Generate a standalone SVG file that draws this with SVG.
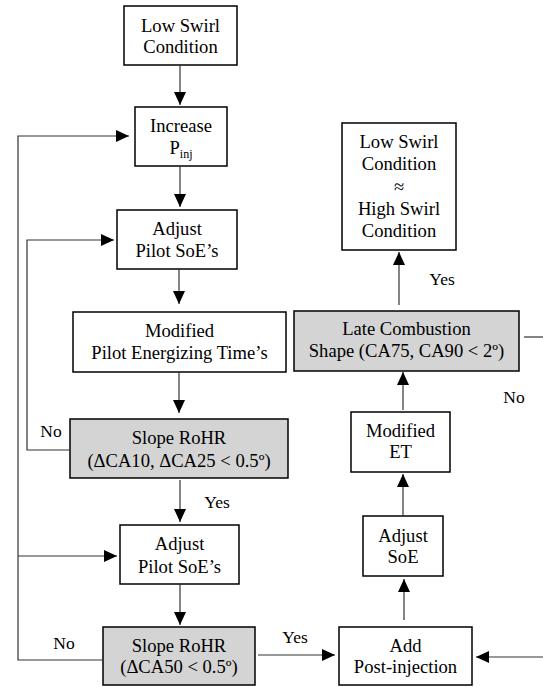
<svg xmlns="http://www.w3.org/2000/svg" width="543" height="687" viewBox="0 0 543 687">
<style>
.box{fill:#ffffff;stroke:#000;stroke-width:1.5}
.dec{fill:#d4d4d4;stroke:#000;stroke-width:1.5}
text{font-family:"Liberation Serif","Times New Roman",serif;font-size:18.6px;fill:#000;text-anchor:middle}
.ln{fill:none;stroke:#333;stroke-width:1.2}
.lbl{font-size:17.5px}
</style>
<defs>
<marker id="ah" markerUnits="userSpaceOnUse" markerWidth="14" markerHeight="14" viewBox="0 0 14 14" refX="13" refY="7" orient="auto">
<path d="M0,1 L13,7 L0,13 Z" fill="#000"/>
</marker>
</defs>
<rect width="543" height="687" fill="#fff"/>
<g id="n1"><rect class="box" x="124" y="6" width="113" height="59"/><text x="180.5" y="32">Low Swirl</text><text x="180.5" y="53">Condition</text></g>
<g id="n2"><rect class="box" x="135" y="107" width="92" height="59"/><text x="181" y="132">Increase</text><text x="181" y="154">P<tspan font-size="12" dy="4">inj</tspan></text></g>
<g id="n3"><rect class="box" x="117" y="210" width="120" height="59"/><text x="177" y="235">Adjust</text><text x="177" y="257">Pilot SoE’s</text></g>
<g id="n4"><rect class="box" x="73" y="312" width="213" height="60"/><text x="179.5" y="337">Modified</text><text x="179.5" y="359">Pilot Energizing Time’s</text></g>
<g id="n5"><rect class="dec" x="70" y="419" width="218" height="59"/><text x="179" y="444">Slope RoHR</text><text x="179" y="467">(ΔCA10, ΔCA25 &lt; 0.5º)</text></g>
<g id="n6"><rect class="box" x="120" y="525" width="119" height="59"/><text x="179.5" y="550">Adjust</text><text x="179.5" y="573">Pilot SoE’s</text></g>
<g id="n7"><rect class="dec" x="103" y="627" width="152" height="58"/><text x="179" y="652">Slope RoHR</text><text x="179" y="673">(ΔCA50 &lt; 0.5º)</text></g>
<g id="n8"><rect class="box" x="339" y="627" width="133" height="58"/><text x="405.5" y="652">Add</text><text x="405.5" y="673">Post-injection</text></g>
<g id="n9"><rect class="box" x="363" y="516" width="80" height="60"/><text x="403" y="542">Adjust</text><text x="403" y="563">SoE</text></g>
<g id="n10"><rect class="box" x="351" y="412" width="99" height="60"/><text x="400.5" y="437">Modified</text><text x="400.5" y="458">ET</text></g>
<g id="n11"><rect class="dec" x="294" y="311" width="225" height="60"/><text x="406.5" y="335">Late Combustion</text><text x="406.5" y="357">Shape (CA75, CA90 &lt; 2º)</text></g>
<g id="n12"><rect class="box" x="342" y="123" width="114" height="127"/><text x="399" y="148">Low Swirl</text><text x="399" y="170">Condition</text><text x="399" y="193">≈</text><text x="399" y="215">High Swirl</text><text x="399" y="237">Condition</text></g>
<g id="connectors">
<line class="ln" x1="180" y1="65" x2="180" y2="105" marker-end="url(#ah)"/>
<line class="ln" x1="180" y1="166" x2="180" y2="207" marker-end="url(#ah)"/>
<line class="ln" x1="179" y1="269" x2="179" y2="304" marker-end="url(#ah)"/>
<line class="ln" x1="179" y1="372" x2="179" y2="413" marker-end="url(#ah)"/>
<line class="ln" x1="180" y1="480" x2="180" y2="522" marker-end="url(#ah)"/>
<line class="ln" x1="180" y1="584" x2="180" y2="625" marker-end="url(#ah)"/>
<polyline class="ln" points="103,660 18,660 18,136 129,136" marker-end="url(#ah)"/>
<line class="ln" x1="18" y1="556" x2="117" y2="556" marker-end="url(#ah)"/>
<polyline class="ln" points="70,450 27,450 27,240 114,240" marker-end="url(#ah)"/>
<line class="ln" x1="258" y1="655" x2="335" y2="655" marker-end="url(#ah)"/>
<line class="ln" x1="543" y1="657" x2="476" y2="657" marker-end="url(#ah)"/>
<line class="ln" x1="404" y1="620" x2="404" y2="579" marker-end="url(#ah)"/>
<line class="ln" x1="403" y1="516" x2="403" y2="474" marker-end="url(#ah)"/>
<line class="ln" x1="403" y1="410" x2="403" y2="372" marker-end="url(#ah)"/>
<line class="ln" x1="399" y1="305" x2="399" y2="252" marker-end="url(#ah)"/>
<line class="ln" x1="524" y1="337" x2="543" y2="337"/>
<text class="lbl" x="217" y="508">Yes</text>
<text class="lbl" x="295" y="643">Yes</text>
<text class="lbl" x="442" y="285">Yes</text>
<text class="lbl" x="51" y="437">No</text>
<text class="lbl" x="64" y="649">No</text>
<text class="lbl" x="514" y="403">No</text>
</g>
</svg>
